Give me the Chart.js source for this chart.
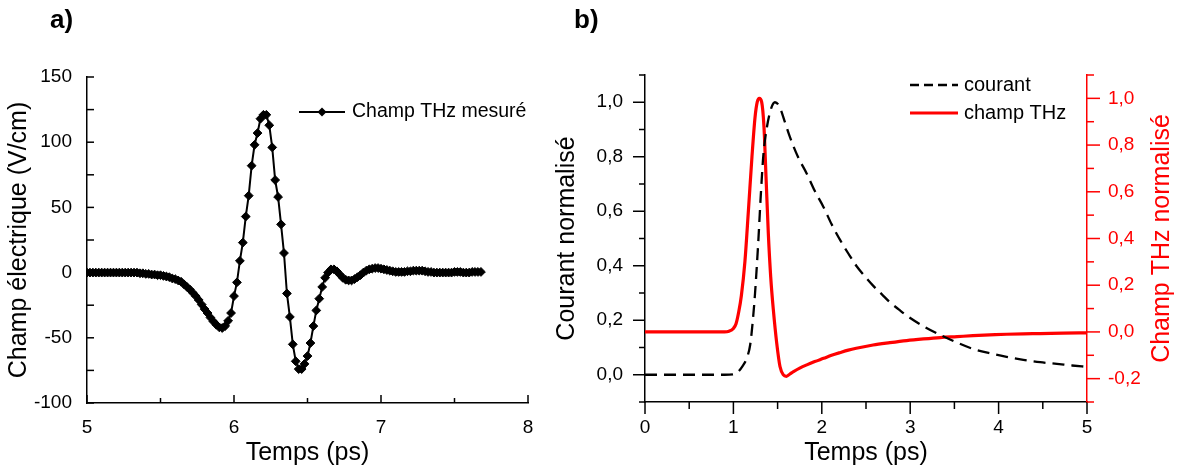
<!DOCTYPE html>
<html>
<head>
<meta charset="utf-8">
<script src="https://cdn.jsdelivr.net/npm/chart.js@4"></script>
<style>
  body { margin: 0; background: #fff; }
  #wrap { position: relative; width: 1179px; height: 473px; overflow: hidden; }
  canvas { position: absolute; top: 0; }
  #chartA { left: 0; }
  #chartB { left: 540px; }
  .tag { position: absolute; top: 4px; font: bold 26px "Liberation Sans", Arial, sans-serif; color: #000; }
</style>
</head>
<body>
<div id="wrap">
  <canvas id="chartA" width="540" height="473"></canvas>
  <canvas id="chartB" width="639" height="473"></canvas>
  <div class="tag" style="left:50px">a)</div>
  <div class="tag" style="left:574px">b)</div>
</div>
<script>
// ---- panel a : measured THz field, one sample every 0.02 ps from 5.00 ps
const tStartA = 5.0;
const tStepA = 0.02;
const champMesure = [
  0, 0, 0, 0, 0, 0, 0, 0, 0, 0,                         // 5.00
  0, 0, 0, 0, 0, 0, 0, 0, -0.5, -0.5,                   // 5.20
  -1, -1, -1.5, -1.5, -2, -2, -2.5, -3, -3.5, -4.5,     // 5.40
  -5, -6, -7, -9, -11, -13, -15.5, -18, -21, -24.5,     // 5.60
  -28, -31, -34.5, -37.5, -40, -42, -42.5, -41, -37, -31, // 5.80
  -18, -7.5, 9, 23, 43, 59, 82, 98, 107, 118,           // 6.00
  121, 121, 113, 96, 71, 58, 37, 15, -16, -34,          // 6.20
  -55, -68, -74, -74, -70, -64, -54, -41, -29, -20,     // 6.40
  -11, -4, 0, 2.5, 2.5, 1, -1.5, -4, -5.5, -6,          // 6.60
  -6, -5, -3.5, -2, 0, 1.5, 2.5, 3, 3.5, 3.5,           // 6.80
  3, 2.5, 2, 1.5, 1, 0.5, 0.5, 0.5, 0.5, 1,             // 7.00
  1, 1.5, 1.5, 1.5, 1.5, 1, 0.5, 0.5, 0, 0,             // 7.20
  0, 0, 0, 0, 0, 0.5, 0.5, 0.5, 0, 0,                   // 7.40
  0, 0.5, 0.5, 0.5, 0.5                                 // 7.60
];
const xTicksA = [5, 6, 7, 8];
const xMinorA = [5.5, 6.5, 7.5];
const yTicksA = [-100, -50, 0, 50, 100, 150];
const yMinorA = [-75, -25, 25, 75, 125];

// ---- panel b : normalised current and THz field
const courantT = [0, 0.5, 0.9, 1.0, 1.05, 1.1, 1.15, 1.19, 1.22, 1.245, 1.28, 1.31, 1.34, 1.38, 1.43, 1.47,
  1.52, 1.58, 1.64, 1.73, 1.83, 1.92, 2.02, 2.11, 2.21, 2.30, 2.39, 2.49, 2.58, 2.68, 2.77, 2.87, 2.96,
  3.15, 3.34, 3.53, 3.71, 3.90, 4.09, 4.28, 4.47, 4.66, 4.83, 5.0];
const courantV = [0, 0, 0, 0.002, 0.01, 0.03, 0.06, 0.11, 0.2, 0.3, 0.48, 0.66, 0.81, 0.91, 0.98, 1.0,
  0.985, 0.93, 0.872, 0.80, 0.738, 0.675, 0.615, 0.553, 0.493, 0.445, 0.40, 0.36, 0.327, 0.295, 0.266, 0.24, 0.217,
  0.178, 0.146, 0.118, 0.095, 0.079, 0.066, 0.055, 0.046, 0.040, 0.034, 0.029];
const thzT = [0, 0.5, 0.9, 0.95, 1.0, 1.03, 1.06, 1.09, 1.13, 1.17, 1.21, 1.245, 1.27, 1.293, 1.32, 1.346,
  1.369, 1.395, 1.422, 1.452, 1.49, 1.527, 1.565, 1.60, 1.64, 1.68, 1.75, 1.83, 1.92, 2.02, 2.11, 2.21,
  2.30, 2.39, 2.58, 2.77, 2.96, 3.15, 3.34, 3.53, 3.71, 3.90, 4.09, 4.28, 4.47, 4.73, 5.0];
const thzV = [0, 0, 0, 0.003, 0.015, 0.035, 0.085, 0.155, 0.30, 0.52, 0.75, 0.92, 0.985, 1.0, 0.984, 0.877,
  0.664, 0.422, 0.236, 0.094, -0.048, -0.148, -0.184, -0.19, -0.18, -0.17, -0.155, -0.141, -0.127, -0.113, -0.10, -0.088,
  -0.078, -0.07, -0.056, -0.046, -0.037, -0.030, -0.024, -0.020, -0.016, -0.013, -0.010, -0.008, -0.007, -0.005, -0.004];
const xTicksB = [0, 1, 2, 3, 4, 5];
const xMinorB = [0.5, 1.5, 2.5, 3.5, 4.5];
const yLeftTicks = [0, 0.2, 0.4, 0.6, 0.8, 1.0];
const yLeftMinor = [-0.1, 0.1, 0.3, 0.5, 0.7, 0.9, 1.1];
const yRightTicks = [-0.2, 0, 0.2, 0.4, 0.6, 0.8, 1.0];
const yRightMinor = [-0.3, -0.1, 0.1, 0.3, 0.5, 0.7, 0.9, 1.1];

const FONT = '"Liberation Sans", Arial, sans-serif';
const RED = '#ff0000';
Chart.defaults.font.family = FONT;
Chart.defaults.color = '#000';

const comma = v => v.toFixed(1).replace('.', ',');
const setTicks = vals => scale => { scale.ticks = vals.map(v => ({ value: v })); };
// fixed axis box, no extra label overhang padding
const fixW = w => s => { s.width = w; s.paddingTop = 0; s.paddingBottom = 0; };
const fixH = h => s => { s.height = h; s.paddingLeft = 0; s.paddingRight = 0; };

// major / minor tick marks (Chart.js has no minor ticks)
const tickMarks = {
  id: 'tickMarks',
  afterDraw(chart, args, opts) {
    const ctx = chart.ctx;
    opts.sets.forEach(s => {
      const sc = chart.scales[s.scale];
      ctx.save();
      ctx.strokeStyle = s.color || '#000';
      ctx.lineWidth = 1.5;
      const mark = (vals, len) => vals.forEach(v => {
        const p = sc.getPixelForValue(v);
        ctx.beginPath();
        if (sc.isHorizontal()) {
          const dir = s.inward ? -1 : 1;
          ctx.moveTo(p, sc.top);
          ctx.lineTo(p, sc.top + dir * len);
        } else if (sc.position === 'left') {
          const dir = s.inward ? 1 : -1;
          ctx.moveTo(sc.right, p);
          ctx.lineTo(sc.right + dir * len, p);
        } else {
          const dir = s.inward ? -1 : 1;
          ctx.moveTo(sc.left, p);
          ctx.lineTo(sc.left + dir * len, p);
        }
        ctx.stroke();
      });
      mark(s.major, s.majorLen);
      mark(s.minor, s.minorLen);
      ctx.restore();
    });
  }
};

// legend drawn inside the plot + extra axis title
const panelDecor = {
  id: 'panelDecor',
  afterDraw(chart, args, opts) {
    const ctx = chart.ctx;
    const a = chart.chartArea;
    ctx.save();
    (opts.items || []).forEach(it => {
      const x0 = a.left + opts.dx, y = a.top + it.dy;
      ctx.strokeStyle = it.color;
      ctx.lineWidth = it.width;
      ctx.setLineDash(it.dash || []);
      ctx.beginPath();
      ctx.moveTo(x0, y);
      ctx.lineTo(x0 + opts.len, y);
      ctx.stroke();
      ctx.setLineDash([]);
      if (it.diamond) {
        const cx = x0 + opts.len / 2, r = 4.5;
        ctx.fillStyle = it.color;
        ctx.beginPath();
        ctx.moveTo(cx, y - r); ctx.lineTo(cx + r, y); ctx.lineTo(cx, y + r); ctx.lineTo(cx - r, y);
        ctx.closePath();
        ctx.fill();
      }
      ctx.fillStyle = '#000';
      ctx.font = opts.fontSize + 'px ' + FONT;
      ctx.textAlign = 'left';
      ctx.textBaseline = 'middle';
      ctx.fillText(it.text, x0 + opts.len + opts.gap, y);
    });
    if (opts.rightTitle) {
      ctx.translate(a.right + opts.rightTitle.dx, (a.top + a.bottom) / 2);
      ctx.rotate(-Math.PI / 2);
      ctx.fillStyle = opts.rightTitle.color;
      ctx.font = '25px ' + FONT;
      ctx.textAlign = 'center';
      ctx.textBaseline = 'middle';
      ctx.fillText(opts.rightTitle.text, 0, 0);
    }
    ctx.restore();
  }
};

// ---------------- panel a
new Chart(document.getElementById('chartA'), {
  type: 'line',
  data: {
    datasets: [{
      label: 'Champ THz mesuré',
      data: champMesure.map((v, i) => ({ x: +(tStartA + i * tStepA).toFixed(2), y: v })),
      borderColor: '#000',
      backgroundColor: '#000',
      borderWidth: 2,
      pointStyle: 'rectRot',
      pointRadius: 4.4,
      pointBorderWidth: 1,
      tension: 0,
      fill: false
    }]
  },
  options: {
    responsive: false,
    animation: false,
    layout: { padding: { left: 0, top: 77, right: 12, bottom: 0 } },
    scales: {
      x: {
        type: 'linear',
        min: 5, max: 8,
        afterBuildTicks: setTicks(xTicksA),
        afterFit: fixH(70),
        grid: { display: false, drawTicks: false },
        border: { display: true, color: '#000', width: 1.5 },
        ticks: { padding: 13, font: { size: 19 }, color: '#000' },
        title: { display: true, text: 'Temps (ps)', font: { size: 25 }, color: '#000', padding: { top: 0, bottom: 5 } }
      },
      y: {
        min: -100, max: 150,
        afterBuildTicks: setTicks(yTicksA),
        afterFit: fixW(87),
        grid: { display: false, drawTicks: false },
        border: { display: true, color: '#000', width: 1.5 },
        ticks: { padding: 15, font: { size: 19 }, color: '#000' },
        title: { display: true, text: 'Champ électrique (V/cm)', font: { size: 25 }, color: '#000', padding: { top: 4, bottom: 0 } }
      }
    },
    plugins: {
      legend: { display: false },
      tooltip: { enabled: false },
      tickMarks: {
        sets: [
          { scale: 'x', major: xTicksA, minor: xMinorA, majorLen: 8, minorLen: 5, inward: true },
          { scale: 'y', major: yTicksA, minor: yMinorA, majorLen: 7, minorLen: 7, inward: true }
        ]
      },
      panelDecor: {
        dx: 212, len: 46, gap: 7, fontSize: 19.5,
        items: [{ text: 'Champ THz mesuré', dy: 35, color: '#000', width: 2, diamond: true }]
      }
    }
  },
  plugins: [tickMarks, panelDecor]
});

// ---------------- panel b
new Chart(document.getElementById('chartB'), {
  type: 'line',
  data: {
    datasets: [{
      label: 'courant',
      data: courantT.map((t, i) => ({ x: t, y: courantV[i] })),
      borderColor: '#000',
      borderWidth: 2.3,
      borderDash: [12, 7],
      pointRadius: 0,
      cubicInterpolationMode: 'monotone',
      fill: false,
      yAxisID: 'y'
    }, {
      label: 'champ THz',
      data: thzT.map((t, i) => ({ x: t, y: thzV[i] })),
      borderColor: RED,
      borderWidth: 3.2,
      pointRadius: 0,
      cubicInterpolationMode: 'monotone',
      fill: false,
      yAxisID: 'y2'
    }]
  },
  options: {
    responsive: false,
    animation: false,
    layout: { padding: { left: 0, top: 75, right: 0, bottom: 0 } },
    scales: {
      x: {
        type: 'linear',
        min: 0, max: 5,
        afterBuildTicks: setTicks(xTicksB),
        afterFit: fixH(71),
        grid: { display: false, drawTicks: false },
        border: { display: true, color: '#000', width: 1.5 },
        ticks: { padding: 14, font: { size: 19 }, color: '#000' },
        title: { display: true, text: 'Temps (ps)', font: { size: 25 }, color: '#000', padding: { top: 0, bottom: 5 } }
      },
      y: {
        position: 'left',
        min: -0.1, max: 1.1,
        afterBuildTicks: setTicks(yLeftTicks),
        afterFit: fixW(105),
        grid: { display: false, drawTicks: false },
        border: { display: true, color: '#000', width: 1.5 },
        ticks: { padding: 22, font: { size: 19 }, color: '#000', callback: v => comma(v) },
        title: { display: true, text: 'Courant normalisé', font: { size: 25 }, color: '#000', padding: { top: 12, bottom: 0 } }
      },
      y2: {
        position: 'right',
        min: -0.3, max: 1.1,
        afterBuildTicks: setTicks(yRightTicks),
        afterFit: fixW(92),
        grid: { display: false, drawTicks: false },
        border: { display: true, color: RED, width: 1.5 },
        ticks: { padding: 21, font: { size: 19 }, color: RED, callback: v => comma(v) }
      }
    },
    plugins: {
      legend: { display: false },
      tooltip: { enabled: false },
      tickMarks: {
        sets: [
          { scale: 'x', major: xTicksB, minor: xMinorB, majorLen: 12, minorLen: 7, inward: false },
          { scale: 'y', major: yLeftTicks, minor: yLeftMinor, majorLen: 12, minorLen: 6, inward: false },
          { scale: 'y2', major: yRightTicks, minor: yRightMinor, majorLen: 13, minorLen: 7, inward: false, color: RED }
        ]
      },
      panelDecor: {
        dx: 265, len: 48, gap: 6, fontSize: 20,
        items: [
          { text: 'courant', dy: 10, color: '#000', width: 2.3, dash: [9, 5] },
          { text: 'champ THz', dy: 38, color: RED, width: 3.2 }
        ],
        rightTitle: { text: 'Champ THz normalisé', color: RED, dx: 75.5 }
      }
    }
  },
  plugins: [tickMarks, panelDecor]
});
</script>
</body>
</html>
